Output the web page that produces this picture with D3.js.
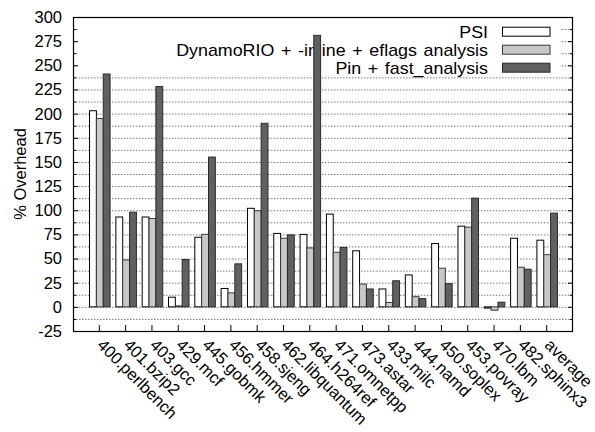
<!DOCTYPE html>
<html><head><meta charset="utf-8">
<script src="https://cdn.jsdelivr.net/npm/d3@7"></script>
<style>body{margin:0;background:#fff}svg{display:block}text{font-family:"Liberation Sans",Arial,sans-serif;fill:#000}</style>
</head><body>
<svg id="c" width="595" height="432"></svg>
<script>
const categories = ["400.perlbench","401.bzip2","403.gcc","429.mcf","445.gobmk","456.hmmer","458.sjeng","462.libquantum","464.h264ref","471.omnetpp","473.astar","433.milc","444.namd","450.soplex","453.povray","470.lbm","482.sphinx3","average"];
const seriesNames = ["PSI","DynamoRIO + -inline + eflags analysis","Pin + fast_analysis"];
const psi = [203, 93, 93, 10, 72, 19, 102, 76, 75, 96, 58, 18.5, 33, 65.5, 83.5, -1.3, 71, 69];
const dynamorio = [195, 48.5, 91.5, 1, 75, 14.5, 99.5, 71, 61, 56.5, 23.5, 4.5, 10.5, 40, 82.5, -3.5, 41, 54];
const pin = [241, 98, 228, 49, 155, 44.5, 190, 74.5, 281, 61.5, 18.5, 27, 8.5, 24, 112.5, 4.8, 39, 97];
const yTicks = [-25,0,25,50,75,100,125,150,175,200,225,250,275,300];
const yLabel = "% Overhead";

const series = [psi, dynamorio, pin];
const fills = ["#ffffff","#c8c8c8","#606060"];
const strokes = ["#000000","#3a3a3a","#2a2a2a"];

const L=73, R=573, T=17, B=331;
const FS = 16.5;
const svg = d3.select("#c");
const x = d3.scaleLinear().domain([-1, categories.length]).range([L, R]);
const y = d3.scaleLinear().domain([-25, 300]).range([B, T]);
const slot = x(1)-x(0);
const bw = slot*0.26;
const off = d3.scaleBand().domain(d3.range(series.length)).range([-1.5*bw, 1.5*bw]);

// grid (every 12.5)
const gridVals = d3.range(-12.5, 300, 12.5);
svg.append("g").selectAll("line").data(gridVals).join("line")
  .attr("x1", L).attr("x2", R).attr("y1", d=>y(d)+0.5).attr("y2", d=>y(d)+0.5)
  .attr("stroke","#7a7a7a").attr("stroke-width",1).attr("stroke-dasharray","1.5,1.5");

// key background (opaque)
svg.append("rect").attr("x", 78).attr("y", T+1).attr("width", 560-78).attr("height", 76-T-1).attr("fill","#fff");

// key
const key = svg.append("g");
seriesNames.forEach((n,i)=>{
  const cy = 31.7 + i*18;
  key.append("text").attr("transform", `translate(488,${cy}) scale(1.05,1)`).attr("dy","0.36em").attr("text-anchor","end")
    .attr("font-size", 17).attr("word-spacing", "1.6px").text(n);
  key.append("rect").attr("x", 502.5).attr("y", cy-4.5).attr("width", 47.5).attr("height", 9)
    .attr("fill", fills[i]).attr("stroke", strokes[i]).attr("stroke-width",1);
});

// bars
series.forEach((vals, si)=>{
  svg.append("g").selectAll("rect").data(vals).join("rect")
    .attr("x", (d,i)=> x(i) + off(si) + 0.5)
    .attr("width", off.bandwidth())
    .attr("y", d=> y(Math.max(0,d)))
    .attr("height", d=> Math.abs(y(d)-y(0)))
    .attr("fill", fills[si]).attr("stroke", strokes[si]).attr("stroke-width",1);
});

// border
svg.append("rect").attr("x", L+0.5).attr("y", T+0.5).attr("width", R-L-1).attr("height", B-T)
  .attr("fill","none").attr("stroke","#000").attr("stroke-width",1.2);

// y ticks (major + minor), both sides
const tg = svg.append("g").attr("stroke","#000").attr("stroke-width",1);
yTicks.forEach(v=>{
  if (v===-25 || v===300) return;
  const yy = y(v)+0.5;
  tg.append("line").attr("x1",L).attr("x2",L+5).attr("y1",yy).attr("y2",yy);
  tg.append("line").attr("x1",R-5).attr("x2",R).attr("y1",yy).attr("y2",yy);
});
gridVals.filter(v=> (v/12.5)%2!==0).forEach(v=>{
  const yy = y(v)+0.5;
  tg.append("line").attr("x1",L).attr("x2",L+3).attr("y1",yy).attr("y2",yy);
  tg.append("line").attr("x1",R-3).attr("x2",R).attr("y1",yy).attr("y2",yy);
});
// x ticks
categories.forEach((c,i)=>{
  tg.append("line").attr("x1",x(i)).attr("x2",x(i)).attr("y1",B).attr("y2",B-6);
});

// y tick labels
svg.append("g").selectAll("text").data(yTicks).join("text")
  .attr("x", 62).attr("y", d=>y(d)).attr("dy","0.36em").attr("text-anchor","end")
  .attr("font-size", FS).text(d=>d);

// x labels
svg.append("g").selectAll("text").data(categories).join("text")
  .attr("transform",(d,i)=>`translate(${x(i)-3},${B+15}) rotate(45)`)
  .attr("text-anchor","start").attr("font-size", FS).text(d=>d);

// y label
svg.append("text").attr("transform",`translate(26,${(T+B)/2}) rotate(-90)`)
  .attr("text-anchor","middle").attr("font-size", FS).text(yLabel);
</script>
</body></html>
